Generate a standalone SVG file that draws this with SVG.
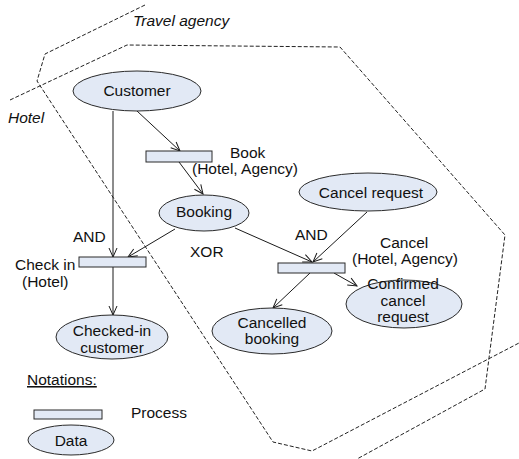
<svg xmlns="http://www.w3.org/2000/svg" width="519" height="459" viewBox="0 0 519 459">
<style>
text{font-family:"Liberation Sans",Arial,sans-serif;font-size:15.5px;fill:#111}
.c{text-anchor:middle}
.it{font-style:italic}
.data{fill:#e2e9f5;stroke:#2a2a2a;stroke-width:1}
.proc{fill:#e2e9f5;stroke:#2a2a2a;stroke-width:1}
.edge{fill:none;stroke:#1a1a1a;stroke-width:1;marker-end:url(#arr)}
.bound{fill:none;stroke:#222;stroke-width:1;stroke-dasharray:4 2}
</style>
<defs>
<marker id="arr" markerUnits="userSpaceOnUse" markerWidth="12" markerHeight="12" refX="10" refY="5" orient="auto" viewBox="0 0 12 10">
<path d="M1,1 L10,5 L1,9" fill="none" stroke="#1a1a1a" stroke-width="1"/>
</marker>
</defs>
<rect width="519" height="459" fill="#fff"/>
<g id="boundaries">
<polyline class="bound" points="145,5 45,54 37,81 273,442 312,451 519,343"/>
<polyline class="bound" points="10,100 127,45 340,47 505,235 485,389 357,459"/>
<text class="it" x="133" y="26">Travel agency</text>
<text class="it" x="8" y="123">Hotel</text>
</g>
<g id="connectors">
<line class="edge" x1="137" y1="111" x2="180" y2="151"/>
<line class="edge" x1="113" y1="111" x2="113" y2="257"/>
<line class="edge" x1="113" y1="267" x2="113" y2="315"/>
<line class="edge" x1="179" y1="162" x2="203" y2="194"/>
<line class="edge" x1="175" y1="229" x2="128" y2="257"/>
<line class="edge" x1="235" y1="228" x2="312" y2="262"/>
<line class="edge" x1="367" y1="212" x2="313" y2="262"/>
<line class="edge" x1="310" y1="273" x2="273" y2="308"/>
<line class="edge" x1="334" y1="273" x2="357" y2="286"/>
</g>
<g id="customer">
<ellipse class="data" cx="137" cy="91" rx="64" ry="20"/>
<text class="c" x="137" y="96">Customer</text>
</g>
<g id="book">
<rect class="proc" x="146" y="151" width="66" height="11"/>
<text x="230" y="158">Book</text>
<text x="192" y="174">(Hotel, Agency)</text>
</g>
<g id="booking">
<ellipse class="data" cx="204" cy="213" rx="45" ry="18"/>
<text class="c" x="204" y="217">Booking</text>
</g>
<g id="checkin">
<rect class="proc" x="79" y="257" width="67" height="10"/>
<text x="73" y="242">AND</text>
<text x="15" y="270">Check in</text>
<text x="22" y="287">(Hotel)</text>
</g>
<text x="190" y="257">XOR</text>
<g id="cancelrequest">
<ellipse class="data" cx="368" cy="192" rx="69" ry="19"/>
<text class="c" x="371" y="198">Cancel request</text>
</g>
<g id="cancel">
<rect class="proc" x="278" y="263" width="67" height="10"/>
<text x="295" y="240">AND</text>
<text x="380" y="248">Cancel</text>
<text x="352" y="264">(Hotel, Agency)</text>
</g>
<g id="confirmed">
<ellipse class="data" cx="404" cy="304" rx="58" ry="24"/>
<text class="c" x="403" y="289">Confirmed</text>
<text class="c" x="403" y="306">cancel</text>
<text class="c" x="403" y="322">request</text>
</g>
<g id="cancelled">
<ellipse class="data" cx="272" cy="331" rx="60" ry="23"/>
<text class="c" x="272" y="328">Cancelled</text>
<text class="c" x="272" y="344">booking</text>
</g>
<g id="checkedin">
<ellipse class="data" cx="112" cy="337" rx="56" ry="22"/>
<text class="c" x="112" y="336">Checked-in</text>
<text class="c" x="112" y="353">customer</text>
</g>
<g id="legend">
<text x="27" y="385" text-decoration="underline">Notations:</text>
<rect class="proc" x="34" y="410" width="68" height="9"/>
<text x="131" y="418">Process</text>
<ellipse class="data" cx="71" cy="440" rx="43" ry="15"/>
<text class="c" x="71" y="446">Data</text>
</g>
</svg>
